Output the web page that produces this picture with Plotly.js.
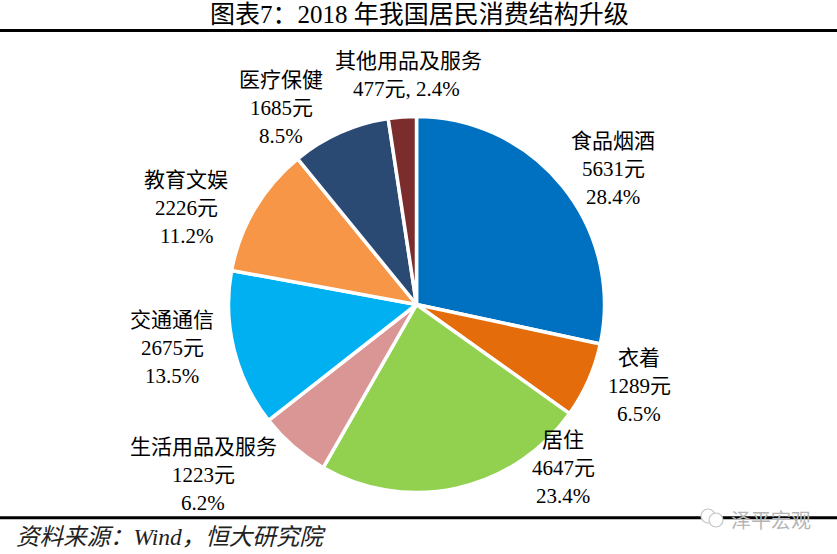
<!DOCTYPE html>
<html><head><meta charset="utf-8">
<script src="https://cdn.plot.ly/plotly-3.0.1.min.js"></script>
<style>html,body{margin:0;padding:0;background:#fff}</style></head>
<body><div id="chart" style="width:837px;height:554px"></div>
<script>
const categories = ["食品烟酒","衣着","居住","生活用品及服务","交通通信","教育文娱","医疗保健","其他用品及服务"];
const values = [5631,1289,4647,1223,2675,2226,1685,477];
const percents = ["28.4%","6.5%","23.4%","6.2%","13.5%","11.2%","8.5%","2.4%"];
const colors = ["#0070C0","#E46C0A","#92D050","#D99694","#00B0F0","#F79646","#2B4A73","#7B2C2C"];
const labelX = [613,639,563,203,172,186,281,408];
const labelY = [141,358,440,447,320,180,80,61];
const W=837,H=554;
const serif="'Liberation Serif','Noto Sans CJK SC',serif";
const note=(text,x,y,size,color,extra)=>Object.assign({text,xref:'paper',yref:'paper',x:x/W,y:1-y/H,
  xanchor:'center',yanchor:'middle',showarrow:false,font:{family:serif,size,color}},extra||{});
const annotations=[];
categories.forEach((c,i)=>{
  annotations.push(note(c,labelX[i],labelY[i],21,'#000'));
  if(i===7){
    annotations.push(note(`${values[i]}元, ${percents[i]}`,406,labelY[i]+28,21,'#000'));
  }else{
    annotations.push(note(`${values[i]}元`,labelX[i],labelY[i]+28,21,'#000'));
    annotations.push(note(percents[i],labelX[i],labelY[i]+56,21,'#000'));
  }
});
annotations.push(note("图表7：2018 年我国居民消费结构升级",419,14,25,'#000'));
annotations.push(note("资料来源：Wind，恒大研究院",14,537,23.5,'#222',{xanchor:'left',font:{family:serif,size:23.5,color:'#222',style:'italic'}}));
annotations.push(note("泽平宏观",771,519,20,'#b5b5b5',{font:{family:"'Noto Sans CJK SC',sans-serif",size:20,color:'#b5b5b5'}}));
const circle=(cx,cy,r,fill)=>({type:'circle',xref:'paper',yref:'paper',x0:(cx-r)/W,x1:(cx+r)/W,y0:1-(cy+r)/H,y1:1-(cy-r)/H,
  line:{color:'#c4c4c4',width:1.2},fillcolor:fill});
Plotly.newPlot('chart',[{
  type:'pie', values:values, labels:categories, sort:false, direction:'clockwise', rotation:0,
  textinfo:'none', hoverinfo:'label+value+percent',
  marker:{colors:colors,line:{color:'#fff',width:3.5}},
  domain:{x:[228.5/W,604.5/W],y:[1-492.5/H,1-116.5/H]}, showlegend:false
}],{
  width:W,height:H,margin:{l:0,r:0,t:0,b:0},paper_bgcolor:'#fff',showlegend:false,
  annotations:annotations,
  shapes:[
    {type:'line',xref:'paper',yref:'paper',x0:0,x1:1,y0:1-30.5/H,y1:1-30.5/H,line:{color:'#000',width:3}},
    {type:'line',xref:'paper',yref:'paper',x0:0,x1:1,y0:1-517.8/H,y1:1-517.8/H,line:{color:'#000',width:3}},
    circle(708,516,7,'#fff'),
    circle(716,520,7,'#fff')
  ]
},{displayModeBar:false});
</script></body></html>
